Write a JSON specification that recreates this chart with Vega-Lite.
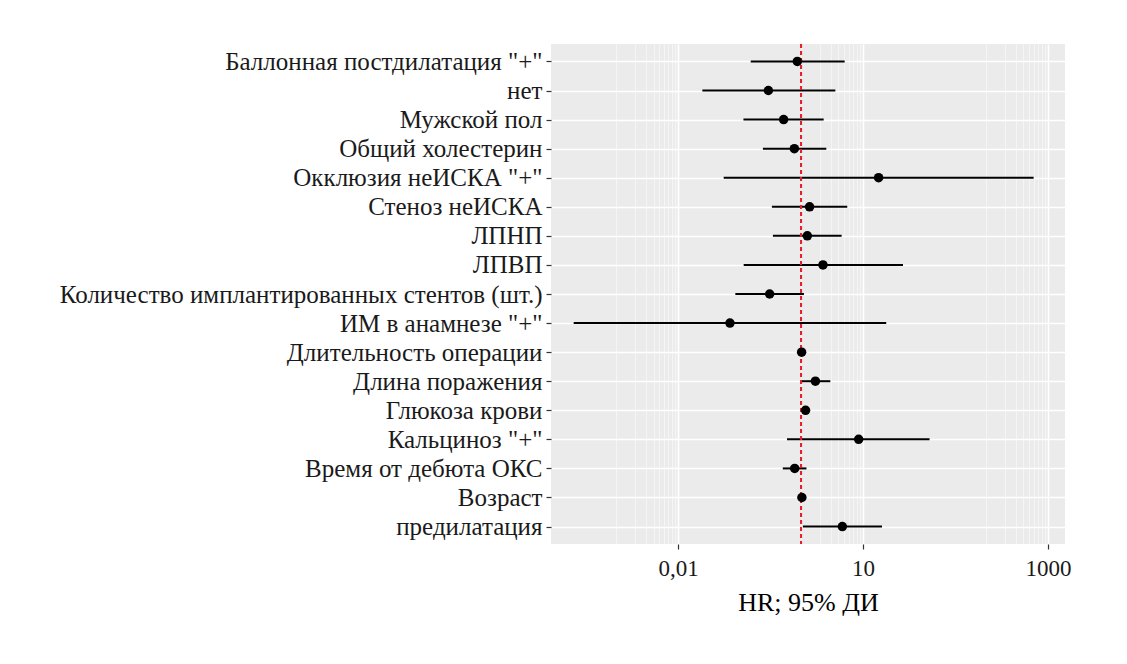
{
  "$schema": "https://vega.github.io/schema/vega-lite/v6.json",
  "width": 514,
  "height": 500,
  "autosize": {"type": "none"},
  "padding": {"left": 551, "top": 44, "right": 62, "bottom": 120},
  "background": "white",
  "config": {
    "view": {"fill": "#EBEBEB", "stroke": null},
    "font": "Liberation Serif"
  },
  "data": {
    "values": [
      {"var": "Баллонная постдилатация \"+\"", "hr": 0.86, "lo": 0.151, "hi": 5.04},
      {"var": "нет", "hr": 0.292, "lo": 0.0248, "hi": 3.56},
      {"var": "Мужской пол", "hr": 0.516, "lo": 0.115, "hi": 2.3},
      {"var": "Общий холестерин", "hr": 0.77, "lo": 0.238, "hi": 2.54},
      {"var": "Окклюзия неИСКА \"+\"", "hr": 17.9, "lo": 0.055, "hi": 5850},
      {"var": "Стеноз неИСКА", "hr": 1.36, "lo": 0.333, "hi": 5.55},
      {"var": "ЛПНП", "hr": 1.25, "lo": 0.346, "hi": 4.5},
      {"var": "ЛПВП", "hr": 2.24, "lo": 0.116, "hi": 44.5},
      {"var": "Количество имплантированных стентов (шт.)", "hr": 0.306, "lo": 0.085, "hi": 1.1},
      {"var": "ИМ в анамнезе \"+\"", "hr": 0.0695, "lo": 0.000203, "hi": 23.8},
      {"var": "Длительность операции", "hr": 1.01, "lo": 0.99, "hi": 1.02},
      {"var": "Длина поражения", "hr": 1.69, "lo": 1.0, "hi": 2.95},
      {"var": "Глюкоза крови", "hr": 1.17, "lo": 1.1, "hi": 1.25},
      {"var": "Кальциноз \"+\"", "hr": 8.5, "lo": 0.585, "hi": 120},
      {"var": "Время от дебюта ОКС", "hr": 0.78, "lo": 0.5, "hi": 1.21},
      {"var": "Возраст", "hr": 1.02, "lo": 1.0, "hi": 1.04},
      {"var": "предилатация", "hr": 4.62, "lo": 1.06, "hi": 20.3}
    ]
  },
  "encoding": {
    "y": {
      "field": "var",
      "type": "nominal",
      "sort": null,
      "scale": {"type": "point", "padding": 0.6},
      "axis": {
        "title": null,
        "grid": true,
        "gridColor": "white",
        "gridWidth": 1.6,
        "domain": false,
        "tickColor": "#333333",
        "tickSize": 5,
        "tickWidth": 1.2,
        "labelPadding": 4,
        "labelFontSize": 25,
        "labelLimit": 0,
        "labelColor": "#1a1a1a",
        "labelFont": "Liberation Serif"
      }
    }
  },
  "layer": [
    {
      "mark": {"type": "rule", "color": "black", "strokeWidth": 2},
      "encoding": {
        "x": {
          "field": "lo",
          "type": "quantitative",
          "scale": {"type": "log", "domain": [0.000087, 18880], "nice": false},
          "axis": {
            "title": "HR; 95% ДИ",
            "titleFont": "Liberation Serif",
            "titleFontSize": 26,
            "titleFontWeight": "normal",
            "titleColor": "black",
            "titlePadding": 9,
            "values": [0.001, 0.002, 0.003, 0.004, 0.005, 0.006, 0.007, 0.008, 0.009, 0.01, 1, 2, 3, 4, 5, 6, 7, 8, 9, 10, 1000, 2000, 3000, 4000, 5000, 6000, 7000, 8000, 9000, 10000],
            "labelExpr": "abs(datum.value - 0.01) < 1e-9 ? '0,01' : (datum.value == 10 ? '10' : (datum.value == 10000 ? '1000' : ''))",
            "labelOverlap": false,
            "labelFlush": false,
            "labelFont": "Liberation Serif",
            "labelFontSize": 23,
            "labelColor": "#1a1a1a",
            "labelPadding": 8,
            "domain": false,
            "grid": true,
            "gridColor": "white",
            "gridWidth": {"condition": {"test": "abs(datum.value - 0.01) < 1e-9 || datum.value == 10 || datum.value == 10000", "value": 1.6}, "value": 0.7},
            "gridOpacity": {"condition": {"test": "abs(datum.value - 0.01) < 1e-9 || datum.value == 10 || datum.value == 10000", "value": 1}, "value": 0.75},
            "tickColor": "#333333",
            "tickSize": 5,
            "tickWidth": 1.2,
            "tickOpacity": {"condition": {"test": "abs(datum.value - 0.01) < 1e-9 || datum.value == 10 || datum.value == 10000", "value": 1}, "value": 0}
          }
        },
        "x2": {"field": "hi"}
      }
    },
    {
      "mark": {"type": "rule", "color": "#E8202A", "strokeWidth": 1.3, "strokeDash": [4, 3]},
      "encoding": {"x": {"datum": 1, "type": "quantitative"}, "y": null}
    },
    {
      "mark": {"type": "point", "filled": true, "color": "black", "size": 90, "opacity": 1},
      "encoding": {"x": {"field": "hr", "type": "quantitative"}}
    }
  ]
}
